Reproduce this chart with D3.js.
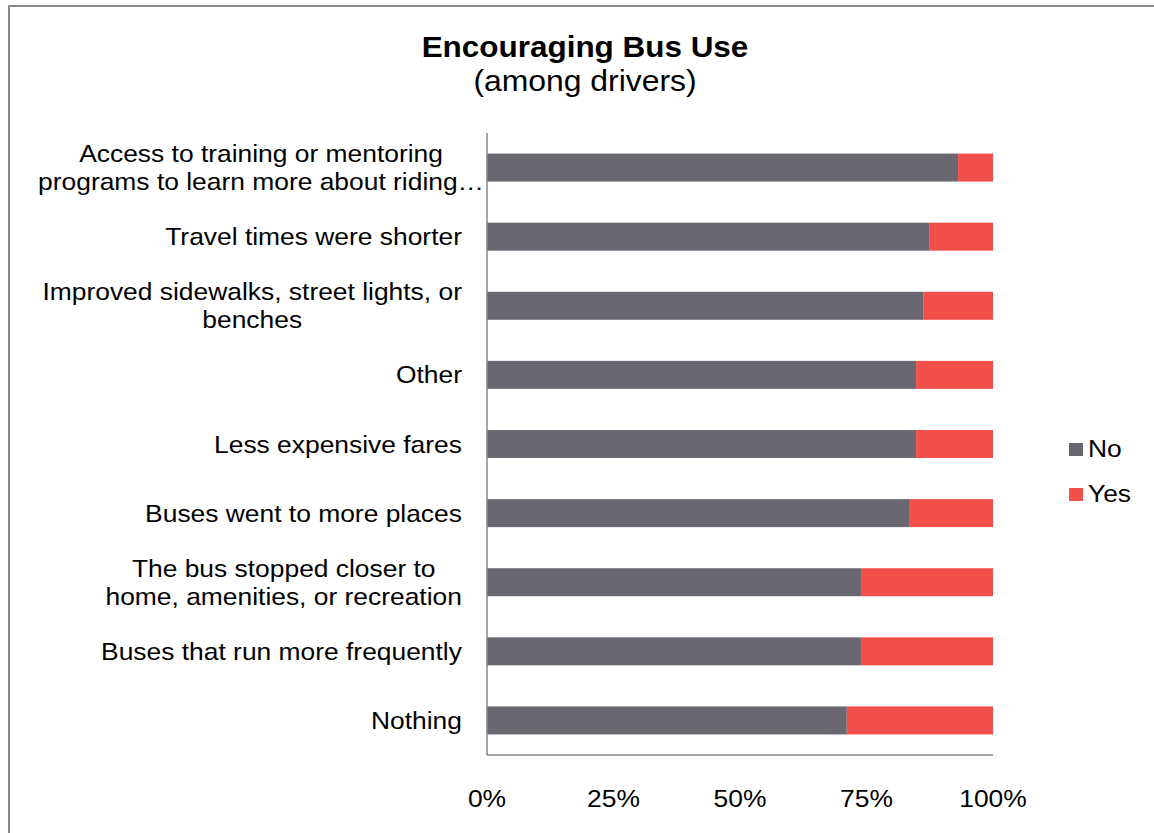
<!DOCTYPE html>
<html>
<head>
<meta charset="utf-8">
<script src="https://cdn.jsdelivr.net/npm/d3@7"></script>
<style>
  body { margin: 0; background: #fff; }
  svg { display: block; font-family: "Liberation Sans", Arial, sans-serif; }
</style>
</head>
<body>
<svg width="1154" height="833"></svg>
<script>
// categories, top to bottom (wrapped the way the chart wraps them)
var categories = [
	["Access to training or mentoring", "programs to learn more about riding\u2026"],
	["Travel times were shorter"],
	["Improved sidewalks, street lights, or", "benches"],
	["Other"],
	["Less expensive fares"],
	["Buses went to more places"],
	["The bus stopped closer to", "home, amenities, or recreation"],
	["Buses that run more frequently"],
	["Nothing"]
];
var noValues = [0.931, 0.875, 0.862, 0.848, 0.848, 0.834, 0.739, 0.739, 0.711];
var yesValues = [0.069, 0.125, 0.138, 0.152, 0.152, 0.166, 0.261, 0.261, 0.289];
var seriesNames = ["No", "Yes"];
var seriesColors = ["#6a6770", "#f24f4a"];
var tickValues = [0, 0.25, 0.5, 0.75, 1];

var svg = d3.select("svg"),
	stretch = 1.1, // the source text is a bit wider than plain Arial
	plotLeft = 487,
	plotRight = 993,
	plotTop = 133,
	plotBottom = 755;

var rows = categories.map(function(c, i) {
	return { id: i, lines: c, No: noValues[i], Yes: yesValues[i] };
});

var x = d3.scaleLinear().domain([0, 1]).range([plotLeft, plotRight]);
var y = d3
	.scaleBand()
	.domain(rows.map((d) => d.id))
	.range([plotTop, plotBottom])
	.paddingInner(0.595)
	.paddingOuter(0.2975);
var color = d3.scaleOrdinal().domain(seriesNames).range(seriesColors);

// outer frame
svg.append("rect")
	.attr("x", 9)
	.attr("y", 6)
	.attr("width", 1200)
	.attr("height", 900)
	.attr("fill", "none")
	.attr("stroke", "#888")
	.attr("stroke-width", 2);

// title
function stretchedText(sel, px, py) {
	return sel.attr("transform", "translate(" + px + "," + py + ") scale(" + stretch + ",1)");
}
stretchedText(svg.append("text"), 585, 57)
	.attr("text-anchor", "middle")
	.attr("font-size", 28.6)
	.attr("font-weight", "bold")
	.text("Encouraging Bus Use");
stretchedText(svg.append("text"), 585, 91)
	.attr("text-anchor", "middle")
	.attr("font-size", 29)
	.text("(among drivers)");

// bars
var stacked = d3.stack().keys(seriesNames)(rows);
svg.append("g")
	.selectAll("g")
	.data(stacked)
	.join("g")
	.attr("fill", (d) => color(d.key))
	.selectAll("rect")
	.data((d) => d)
	.join("rect")
	.attr("x", (d) => x(d[0]))
	.attr("width", (d) => x(d[1]) - x(d[0]))
	.attr("y", (d) => y(d.data.id))
	.attr("height", y.bandwidth());

// axis lines
svg.append("line")
	.attr("x1", plotLeft).attr("x2", plotLeft)
	.attr("y1", plotTop).attr("y2", plotBottom)
	.attr("stroke", "#868686").attr("stroke-width", 1.5);
svg.append("line")
	.attr("x1", plotLeft).attr("x2", plotRight)
	.attr("y1", plotBottom).attr("y2", plotBottom)
	.attr("stroke", "#868686").attr("stroke-width", 1.5);

// x tick labels
svg.append("g")
	.selectAll("text")
	.data(tickValues)
	.join("text")
	.attr("transform", (d) => "translate(" + x(d) + ",807) scale(" + stretch + ",1)")
	.attr("text-anchor", "middle")
	.attr("font-size", 24)
	.text(d3.format(".0%"));

// category labels, centred lines, kept right of x=38 and left of x=462
var labels = svg.append("g")
	.selectAll("g")
	.data(rows)
	.join("g");
labels.each(function(d) {
	var g = d3.select(this);
	var cy = y(d.id) + y.bandwidth() / 2;
	var n = d.lines.length;
	var texts = g.selectAll("text")
		.data(d.lines)
		.join("text")
		.attr("text-anchor", "middle")
		.attr("font-size", 24)
		.text((t) => t);
	var w = 0;
	texts.each(function() { w = Math.max(w, this.getComputedTextLength() * stretch); });
	var cx = Math.max(462 - w / 2, 38 + w / 2);
	texts.attr("transform", function(t, i) {
		var by = cy + (i - (n - 1) / 2) * 28 + 8.5;
		return "translate(" + cx + "," + by + ") scale(" + stretch + ",1)";
	});
});

// legend
var legend = svg.append("g")
	.selectAll("g")
	.data(seriesNames)
	.join("g")
	.attr("transform", (d, i) => "translate(1069," + (443 + i * 45) + ")");
legend.append("rect")
	.attr("width", 14)
	.attr("height", 13)
	.attr("fill", (d) => color(d));
legend.append("text")
	.attr("transform", "translate(19,14) scale(" + stretch + ",1)")
	.attr("font-size", 24)
	.text((d) => d);
</script>
</body>
</html>
